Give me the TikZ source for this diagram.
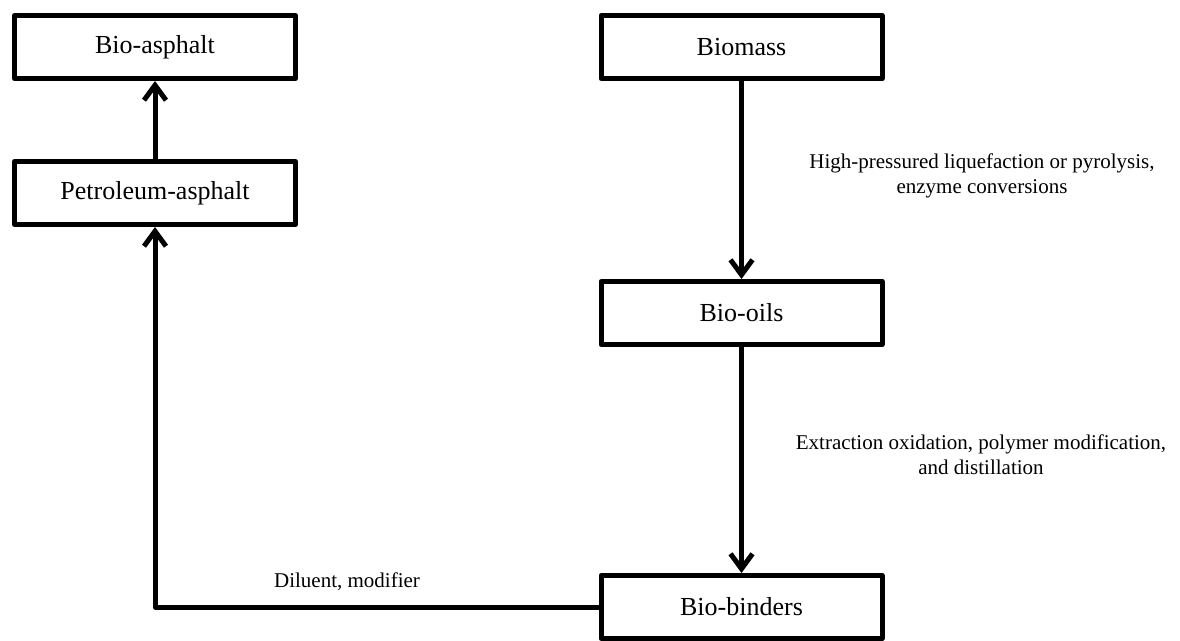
\documentclass[tikz,border=0pt]{standalone}
\usepackage{fontspec}
\setmainfont{Liberation Serif}
\usetikzlibrary{arrows.meta,positioning}
\begin{document}
\begin{tikzpicture}[x=1pt,y=-1pt]
    \tikzstyle{box}=[draw,rectangle,line width=5pt,line join=round,minimum width=281pt,minimum height=63pt,font=\fontsize{26}{30}\selectfont]
    \tikzstyle{note}=[align=center,font=\fontsize{21}{25}\selectfont]
    \tikzstyle{flow}=[line width=5pt,line join=round,-{Straight Barb[length=15pt,width=22pt]}]
    \useasboundingbox (0,0) rectangle (1180,640);
    % right column
    \node[box] (biomass) at (741.5,47) {Biomass};
    \node[box,below=198pt of biomass] (biooils) {Bio-oils};
    \node[box,below=226pt of biooils] (biobinders) {Bio-binders};
    % left column
    \node[box] (bioasphalt) at (155,47) {Bio-asphalt};
    \node[box,below=78pt of bioasphalt] (petroasphalt) {Petroleum-asphalt};
    % labels
    \node[note] (conversion) at (982,176) {High-pressured liquefaction or pyrolysis,\\enzyme conversions};
    \node[note] (upgrading) at (981,455) {Extraction oxidation, polymer modification,\\and distillation};
    \node[note] (blending) at (347,582) {Diluent, modifier};
    % arrows
    \draw[flow] (biomass) -- (biooils);
    \draw[flow] (biooils) -- (biobinders);
    \draw[flow] (biobinders.west) -| (petroasphalt.south);
    \draw[flow] (petroasphalt) -- (bioasphalt);
\end{tikzpicture}
\end{document}
